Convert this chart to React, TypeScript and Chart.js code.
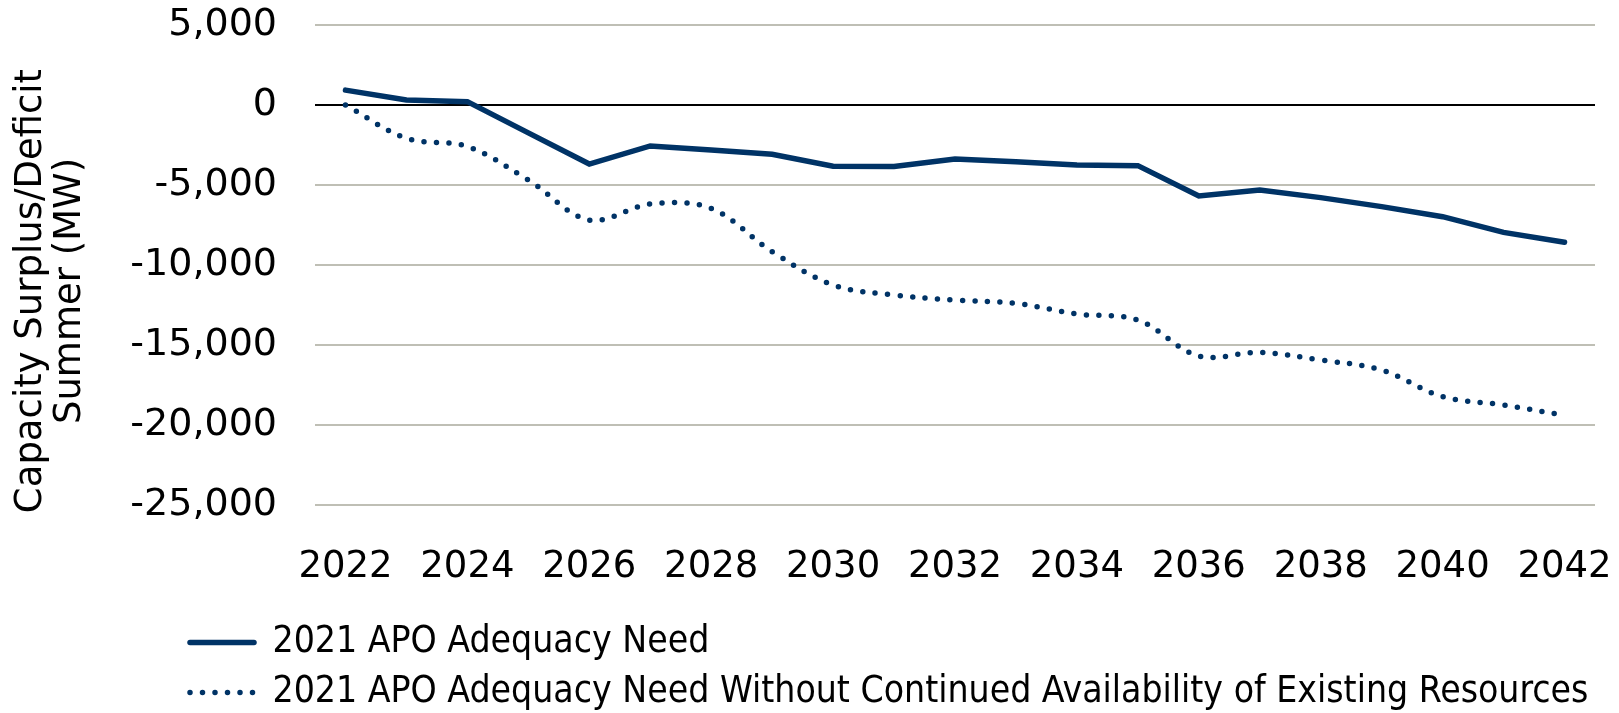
import React, { useEffect, useRef } from "react";
import { Chart, registerables } from "chart.js";

Chart.register(...registerables);

const years: string[] = [
  "2022", "2023", "2024", "2025", "2026", "2027", "2028", "2029", "2030", "2031", "2032",
  "2033", "2034", "2035", "2036", "2037", "2038", "2039", "2040", "2041", "2042",
];

const adequacyNeed: number[] = [
  930, 310, 210, -1740, -3690, -2560, -2810, -3080, -3830, -3850, -3380,
  -3540, -3750, -3790, -5690, -5310, -5790, -6350, -6980, -7960, -8580,
];

const adequacyNeedWithoutExisting: number[] = [
  0, -2080, -2600, -4690, -7190, -6190, -6460, -9170, -11250, -11880, -12190,
  -12400, -13060, -13440, -15690, -15460, -15940, -16560, -18230, -18750, -19400,
];

const seriesLabels: string[] = [
  "2021 APO Adequacy Need",
  "2021 APO Adequacy Need Without Continued Availability of Existing Resources",
];

const yTitleLines: string[] = ["Capacity Surplus/Deficit", "Summer (MW)"];

const NAVY = "#003366";
const FONT = '"DejaVu Sans", Verdana, sans-serif';
const LEGEND_FONT = '"DejaVu Sans Condensed", "Liberation Sans", sans-serif';

const yTitlePlugin = {
  id: "yTitleCustom",
  afterLayout(chart: any) {
    if (chart.legend) {
      chart.legend.left += 177;
      chart.legend.top += 8;
      chart.legend.bottom += 8;
    }
  },
  afterDraw(chart: any) {
    const ctx = chart.ctx;
    ctx.save();
    ctx.fillStyle = "#000";
    ctx.font = `37px ${FONT}`;
    ctx.textAlign = "center";
    ctx.textBaseline = "middle";
    const cy = 291;
    const xs = [31, 70];
    yTitleLines.forEach((line, i) => {
      ctx.save();
      ctx.translate(xs[i], cy);
      ctx.rotate(-Math.PI / 2);
      ctx.fillText(line, 0, 0);
      ctx.restore();
    });
    ctx.restore();
  },
};

export default function App() {
  const canvasRef = useRef<HTMLCanvasElement | null>(null);

  useEffect(() => {
    document.body.style.margin = "0";
    const canvas = canvasRef.current;
    if (!canvas) return;
    const chart = new Chart(canvas, {
      type: "line",
      data: {
        labels: years,
        datasets: [
          {
            label: seriesLabels[0],
            data: adequacyNeed,
            borderColor: NAVY,
            backgroundColor: NAVY,
            borderWidth: 5.5,
            borderCapStyle: "round",
            borderJoinStyle: "miter",
            pointRadius: 0,
            tension: 0,
            fill: false,
          },
          {
            label: seriesLabels[1],
            data: adequacyNeedWithoutExisting,
            borderColor: NAVY,
            backgroundColor: NAVY,
            borderWidth: 5.5,
            borderDash: [0, 12.5],
            borderCapStyle: "round",
            pointRadius: 0,
            tension: 0.35,
            fill: false,
          },
        ],
      },
      plugins: [yTitlePlugin],
      options: {
        animation: false,
        responsive: false,
        maintainAspectRatio: false,
        layout: { padding: { left: 0, right: 24, top: 25, bottom: 0 } },
        plugins: {
          legend: {
            position: "bottom",
            align: "start",
            labels: {
              usePointStyle: true,
              pointStyle: "line",
              pointStyleWidth: 64,
              padding: 13,
              color: "#000",
              font: { family: LEGEND_FONT, size: 37 },
              generateLabels: (chart: any) => {
                const items = Chart.defaults.plugins.legend.labels.generateLabels(chart);
                return items.map((item: any) => {
                  const ds: any = chart.data.datasets[item.datasetIndex];
                  return {
                    ...item,
                    lineDash: ds.borderDash || [],
                    lineCap: ds.borderCapStyle || "butt",
                    lineWidth: ds.borderWidth,
                    strokeStyle: ds.borderColor,
                    fillStyle: ds.borderColor,
                    pointStyle: "line",
                  };
                });
              },
            },
          },
          tooltip: { enabled: false },
          title: { display: false },
        },
        scales: {
          x: {
            offset: true,
            grid: {
              display: true,
              drawOnChartArea: false,
              drawTicks: true,
              tickLength: 40,
              tickColor: "rgba(0,0,0,0)",
            },
            border: { display: false },
            ticks: {
              color: "#000",
              font: { family: FONT, size: 37 },
              padding: 0,
              maxRotation: 0,
              autoSkip: false,
              callback: function (this: any, value: any, index: number) {
                return index % 2 === 0 ? years[index] : "";
              },
            },
            afterFit(scale: any) {
              scale.height = 98;
            },
          },
          y: {
            min: -25000,
            max: 5000,
            grid: {
              drawTicks: true,
              tickLength: 38,
              tickColor: "rgba(0,0,0,0)",
              lineWidth: 2,
              color: (ctx: any) => (ctx.tick && ctx.tick.value === 0 ? "#000000" : "#bfbfb5"),
            },
            border: { display: false },
            ticks: {
              stepSize: 5000,
              color: "#000",
              padding: 0,
              font: { family: FONT, size: 38 },
              callback: (v: any) => Number(v).toLocaleString("en-US"),
            },
            afterFit(scale: any) {
              scale.width = 315;
            },
          },
        },
      },
    });
    return () => chart.destroy();
  }, []);

  return (
    <div style={{ width: 1619, height: 713 }}>
      <canvas ref={canvasRef} width={1619} height={713} style={{ display: "block" }} />
    </div>
  );
}
